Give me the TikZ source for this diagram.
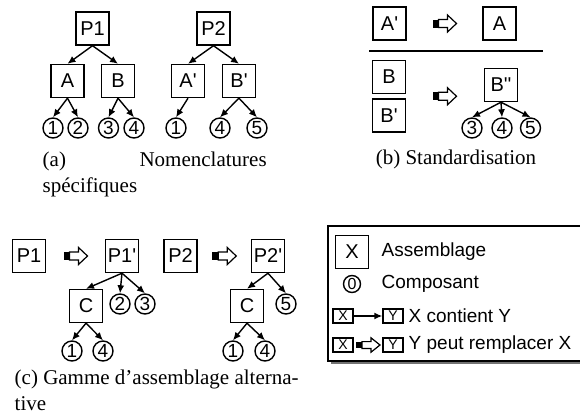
\documentclass[tikz,border=0pt]{standalone}
\usepackage{fontspec}
\setmainfont{Liberation Serif}
\newfontfamily\lab{Liberation Sans}
\usetikzlibrary{arrows.meta,calc}

\def\boxsize{16.5pt}

\begin{document}
\begin{tikzpicture}[x=0.5pt,y=-0.5pt,font=\lab\fontsize{10}{11}\selectfont,line width=0.7pt,>={Latex[length=4pt,width=3.5pt]}]
    \tikzstyle{asm}=[draw,minimum size=\boxsize,inner sep=0pt]
    \tikzstyle{comp}=[circle,draw,minimum size=10pt,inner sep=0pt,font=\lab\fontsize{9.5}{9.5}\selectfont]
    \tikzstyle{mini}=[draw,minimum width=10pt,minimum height=7pt,inner sep=0pt,font=\lab\fontsize{7}{7}\selectfont]
    \tikzstyle{caption}=[font=\rmfamily\fontsize{10.5}{13}\selectfont,inner sep=0pt]
    \tikzstyle{legtext}=[font=\lab\fontsize{9.5}{11}\selectfont,anchor=west,inner sep=0pt]
    \tikzset{subst/.pic={
        \fill[black] (-12,-4) rectangle (-6,4);
        \draw[line width=0.6pt,fill=white] (-6,-4) -- (3,-4) -- (3,-8.5) -- (12,0) -- (3,8.5) -- (3,4) -- (-6,4) -- cycle;
    }}

    \path[use as bounding box] (0,0) rectangle (580,418);
    \clip (0,0) rectangle (580,418);

    % (a) nomenclatures
    \node[asm] (P1) at (92.5,28.5) {P1};
    \node[asm] (A) at (67.5,81) {A};
    \node[asm] (B) at (118,81) {B};
    \node[comp] (a1) at (53,128) {1};
    \node[comp] (a2) at (78,128) {2};
    \node[comp] (a3) at (108.5,128) {3};
    \node[comp] (a4) at (134,128) {4};
    \draw[->] (P1.south) -- (A.north);
    \draw[->] (P1.south) -- (B.north);
    \draw[->] (A.south) -- (a1.north);
    \draw[->] (A.south) -- (a2.north);
    \draw[->] (B.south) -- (a3.north);
    \draw[->] (B.south) -- (a4.north);

    \node[asm] (P2) at (213.5,28.5) {P2};
    \node[asm] (Ap) at (188,81) {A'};
    \node[asm] (Bp) at (239,81) {B'};
    \node[comp] (b1) at (176,128) {1};
    \node[comp] (b4) at (220,128) {4};
    \node[comp] (b5) at (257,128) {5};
    \draw[->] (P2.south) -- (Ap.north);
    \draw[->] (P2.south) -- (Bp.north);
    \draw[->] (Ap.south) -- (b1.north);
    \draw[->] (Bp.south) -- (b4.north);
    \draw[->] (Bp.south) -- (b5.north);

    \node[caption,text width=112pt,align=left,anchor=north west] (capa) at (42,151.5) {(a)\hfill Nomenclatures\\spécifiques};

    % (b) standardisation
    \node[asm] (std1) at (389.5,23.5) {A'};
    \node[asm] (std2) at (499.5,23.5) {A};
    \path (std1) -- (std2) coordinate[midway] (s1);
    \pic at (s1) {subst};
    \draw[line width=0.8pt] (369,51) -- (543,51);
    \node[asm] (std3) at (389,77) {B};
    \node[asm] (std4) at (389,115.5) {B'};
    \node[asm] (std5) at (501,85) {B''};
    \coordinate (s2) at ($(std3)!.5!(std4)$);
    \pic at (s1 |- s2) {subst};
    \node[comp] (e3) at (472,128) {3};
    \node[comp] (e4) at (502,128) {4};
    \node[comp] (e5) at (530.5,128) {5};
    \draw[->] (std5.south) -- (e3.north);
    \draw[->] (std5.south) -- (e4.north);
    \draw[->] (std5.south) -- (e5.north);

    \node[caption,anchor=base] (capb) at (456,164) {(b) Standardisation};

    % (c) gamme alternative
    \node[asm] (G1) at (29,256) {P1};
    \node[asm] (G1p) at (122,256) {P1'};
    \path (G1) -- (G1p) coordinate[midway] (s3);
    \pic at (s3) {subst};
    \node[asm] (C1) at (86,306) {C};
    \node[comp] (f2) at (120,304) {2};
    \node[comp] (f3) at (145,304) {3};
    \node[comp] (f1) at (72,351) {1};
    \node[comp] (f4) at (103,351) {4};
    \draw[->] (G1p.south) -- (C1.north);
    \draw[->] (G1p.south) -- (f2.north);
    \draw[->] (G1p.south) -- (f3.north);
    \draw[->] (C1.south) -- (f1.north);
    \draw[->] (C1.south) -- (f4.north);

    \node[asm] (G2) at (180.5,256) {P2};
    \node[asm] (G2p) at (268,256) {P2'};
    \path (G2) -- (G2p) coordinate[midway] (s4);
    \pic at (s4) {subst};
    \node[asm] (C2) at (247,306) {C};
    \node[comp] (g5) at (286,304) {5};
    \node[comp] (g1) at (233,351) {1};
    \node[comp] (g4) at (265,351) {4};
    \draw[->] (G2p.south) -- (C2.north);
    \draw[->] (G2p.south) -- (g5.north);
    \draw[->] (C2.south) -- (g1.north);
    \draw[->] (C2.south) -- (g4.north);

    \node[caption,align=left,anchor=north west] (capc) at (14,369) {(c) Gamme d’assemblage alterna-\\tive};

    % legende
    \fill[black!55] (331,229) rectangle (600,364);
    \draw[fill=white] (328,226) rectangle (600,361);
    \node[asm] (LX) at (352,252) {X};
    \node[legtext] at (381,252) {Assemblage};
    \node[comp,minimum size=8.5pt,font=\lab\fontsize{8}{8}\selectfont] (L0) at (352,284) {0};
    \node[legtext] at (381,284) {Composant};
    \node[mini] (lx3) at (343,316) {X};
    \node[mini] (ly3) at (393,316) {Y};
    \draw[->] (lx3) -- (ly3);
    \node[legtext] at (408,316) {X contient Y};
    \node[mini] (lx4) at (343,345) {X};
    \node[mini] (ly4) at (393,345) {Y};
    \path (lx4) -- (ly4) coordinate[midway] (s5);
    \pic[yscale=0.85] at (s5) {subst};
    \node[legtext] at (408,345) {Y peut remplacer X};
\end{tikzpicture}
\end{document}
